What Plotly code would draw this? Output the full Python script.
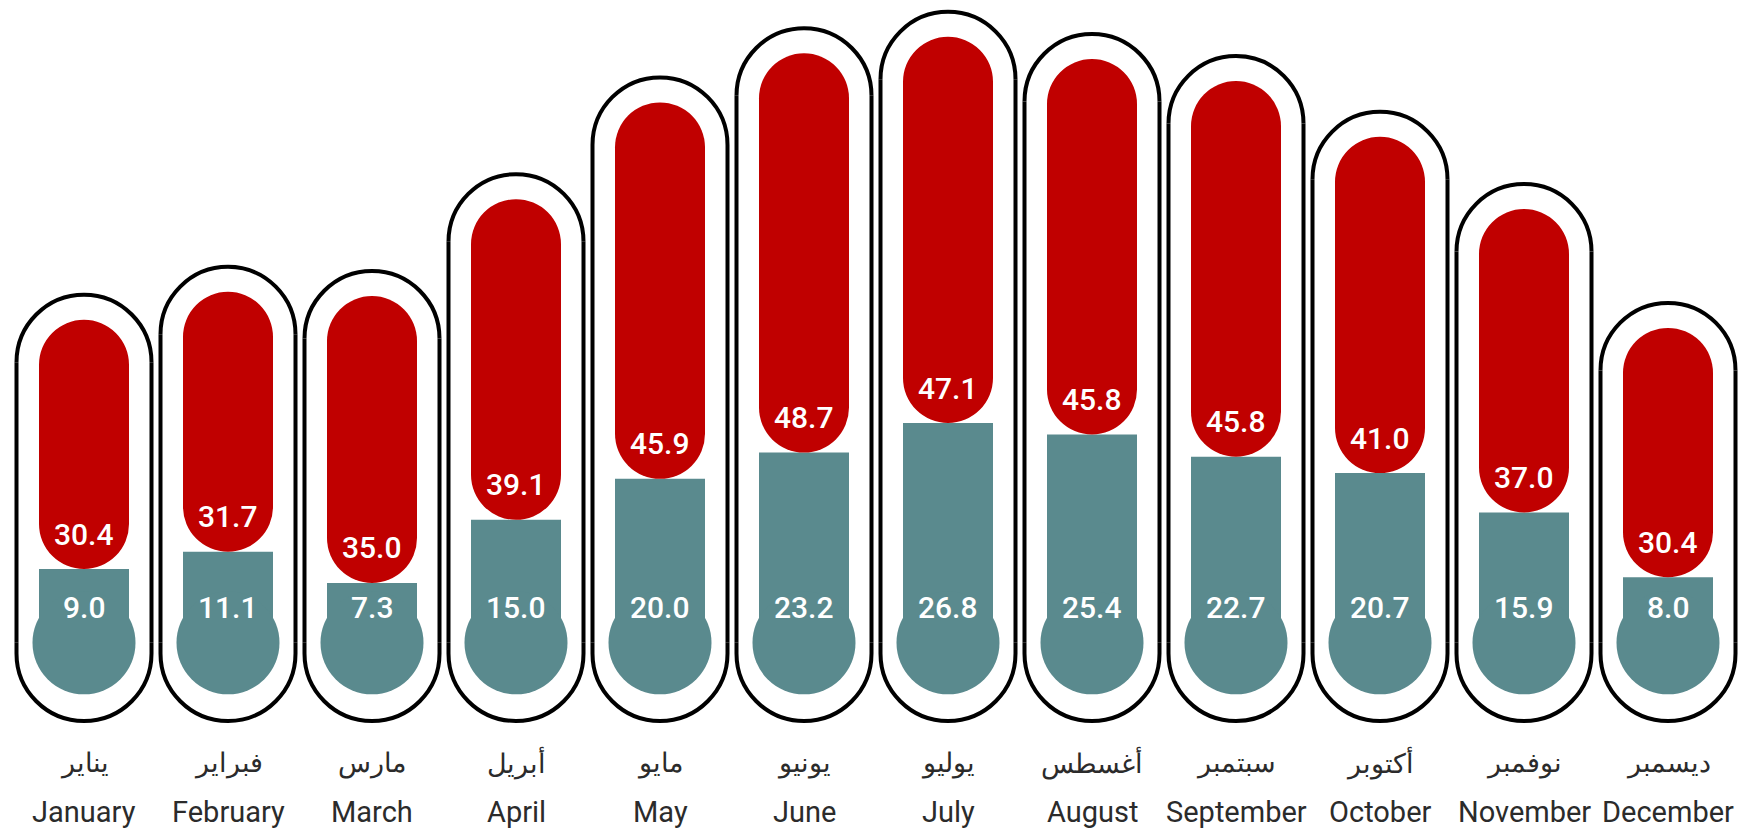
import plotly.graph_objects as go

# ---- data ----
months_en = ["January", "February", "March", "April", "May", "June",
             "July", "August", "September", "October", "November", "December"]
months_ar = ["يناير", "فبراير", "مارس", "أبريل", "مايو", "يونيو",
             "يوليو", "أغسطس", "سبتمبر", "أكتوبر", "نوفمبر", "ديسمبر"]
min_temp = [9.0, 11.1, 7.3, 15.0, 20.0, 23.2, 26.8, 25.4, 22.7, 20.7, 15.9, 8.0]
max_temp = [30.4, 31.7, 35.0, 39.1, 45.9, 48.7, 47.1, 45.8, 45.8, 41.0, 37.0, 30.4]

# ---- style / geometry ----
RED = "#C00000"
TEAL = "#5A8A8E"
TEXT = "#2b2b2b"
W, H = 1738, 823          # page body has an 8px margin
ML, MR = 4, 6
BAR_W = 0.625             # fraction of a category
BULB = 103                # px diameter of the bulb
R_OUT = 67.5              # outline half width (px)
TOP_GAP = 25              # px between red top and outline
BOT_OFF = 10.7            # px, bottom cap centre below zero
Y_TOP, Y_BOT = 77.415, -22.95
PPU = H / (Y_TOP - Y_BOT)  # px per data unit

xs = list(range(len(months_en)))
totals = [a + b for a, b in zip(min_temp, max_temp)]

fig = go.Figure()

fig.add_trace(go.Bar(
    x=xs, y=min_temp, base=0, width=BAR_W,
    marker=dict(color=TEAL, line=dict(width=0), cornerradius=0),
    hoverinfo="skip", showlegend=False))

fig.add_trace(go.Bar(
    x=xs, y=max_temp, base=min_temp, width=BAR_W,
    marker=dict(color=RED, line=dict(width=0), cornerradius=45),
    hoverinfo="skip", showlegend=False))

fig.add_trace(go.Scatter(
    x=xs, y=[0] * len(xs), mode="markers",
    marker=dict(size=BULB, color=TEAL, line=dict(width=0)),
    hoverinfo="skip", showlegend=False))

# ---- outline shapes ----
k = 0.5523 * R_OUT
line_style = dict(color="black", width=4)
shapes = []
for i, t in zip(xs, totals):
    c = TOP_GAP - R_OUT   # dome centre relative to the red top (px)
    top = (f"M {-R_OUT},{c} "
           f"C {-R_OUT},{c + k} {-k},{c + R_OUT} 0,{c + R_OUT} "
           f"C {k},{c + R_OUT} {R_OUT},{c + k} {R_OUT},{c}")
    shapes.append(dict(type="path", path=top, xref="x", yref="y",
                       xsizemode="pixel", ysizemode="pixel",
                       xanchor=i, yanchor=t, line=line_style))
    b = -BOT_OFF
    bot = (f"M {-R_OUT},0 L {-R_OUT},{b} "
           f"C {-R_OUT},{b - k} {-k},{b - R_OUT} 0,{b - R_OUT} "
           f"C {k},{b - R_OUT} {R_OUT},{b - k} {R_OUT},{b} L {R_OUT},0")
    shapes.append(dict(type="path", path=bot, xref="x", yref="y",
                       xsizemode="pixel", ysizemode="pixel",
                       xanchor=i, yanchor=0, line=line_style))
    side_top = t + c / PPU
    sides = (f"M {-R_OUT},0 L {-R_OUT},{side_top} "
             f"M {R_OUT},0 L {R_OUT},{side_top}")
    shapes.append(dict(type="path", path=sides, xref="x", yref="y",
                       xsizemode="pixel", xanchor=i, line=line_style))

# ---- annotations ----
ann = []
val_font = dict(family="Roboto", size=30, color="white", weight=500)
for i, lo, hi in zip(xs, min_temp, max_temp):
    ann.append(dict(x=i, y=lo, text=f"{hi:.1f}", showarrow=False,
                    xref="x", yref="y", yanchor="middle", yshift=35,
                    font=val_font))
    ann.append(dict(x=i, y=0, text=f"{lo:.1f}", showarrow=False,
                    xref="x", yref="y", yanchor="middle", yshift=35,
                    font=val_font))
for i, ar, en in zip(xs, months_ar, months_en):
    ann.append(dict(x=i, y=1 - 755 / H, text=ar, showarrow=False,
                    xref="x", yref="paper", yanchor="middle",
                    font=dict(family="Roboto", size=27, color=TEXT)))
    ann.append(dict(x=i, y=1 - 804 / H, text=en, showarrow=False,
                    xref="x", yref="paper", yanchor="middle",
                    font=dict(family="Roboto", size=29, color=TEXT)))

fig.update_layout(
    width=W, height=H,
    margin=dict(l=ML, r=MR, t=0, b=0),
    paper_bgcolor="white", plot_bgcolor="white",
    barmode="overlay",
    xaxis=dict(range=[-0.5, 11.5], visible=False, fixedrange=True),
    yaxis=dict(range=[Y_BOT, Y_TOP], visible=False, fixedrange=True),
    shapes=shapes, annotations=ann,
    showlegend=False,
)

fig.write_html("out.html")
